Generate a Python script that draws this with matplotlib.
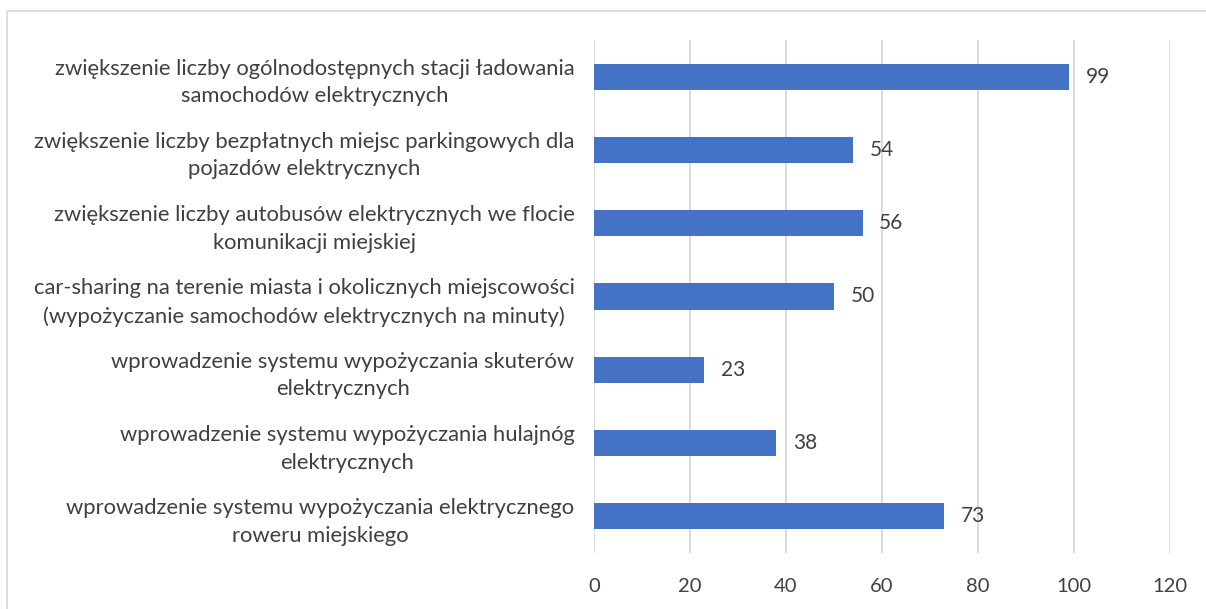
import matplotlib
matplotlib.use('Agg')
from matplotlib import pyplot as plt
from matplotlib.patches import Rectangle

categories = [
    'zwiększenie liczby ogólnodostępnych stacji ładowania\nsamochodów elektrycznych',
    'zwiększenie liczby bezpłatnych miejsc parkingowych dla\npojazdów elektrycznych',
    'zwiększenie liczby autobusów elektrycznych we flocie\nkomunikacji miejskiej',
    'car-sharing na terenie miasta i okolicznych miejscowości\n(wypożyczanie samochodów elektrycznych na minuty)',
    'wprowadzenie systemu wypożyczania skuterów\nelektrycznych',
    'wprowadzenie systemu wypożyczania hulajnóg\nelektrycznych',
    'wprowadzenie systemu wypożyczania elektrycznego\nroweru miejskiego',
]
values = [99, 54, 56, 50, 23, 38, 73]
x_ticks = [0, 20, 40, 60, 80, 100, 120]

TEXT = '#404040'
BAR = '#4472C4'
GRID = '#D9D9D9'

plt.rcParams['font.family'] = ['Lato', 'DejaVu Sans']

fig = plt.figure(figsize=(12.06, 6.09), dpi=100)
ax = fig.add_axes([594 / 1206, 1 - 553 / 609, (1170 - 594) / 1206, (553 - 40) / 609])

# outer chart border (runs off the right/bottom edge like the screenshot)
fig.patches.append(Rectangle((7 / 1206, -0.1), 1.2, 1.1 - 11 / 609,
                             transform=fig.transFigure, fill=False,
                             edgecolor=GRID, linewidth=1.2))

pos = list(range(len(categories)))[::-1]
ax.barh(pos, values, height=0.355, color=BAR, zorder=3)

for p, v in zip(pos, values):
    ax.text(v + 3.4, p, str(v), va='center', ha='left', fontsize=15, color=TEXT)

ax.set_xlim(0, 120)
ax.set_ylim(-0.5, len(categories) - 0.5)
ax.set_xticks(x_ticks)
ax.set_xticklabels([str(t) for t in x_ticks], fontsize=14.5, color=TEXT)
ax.set_yticks(pos)
ax.set_yticklabels(categories, fontsize=15.8, color=TEXT, multialignment='center',
                   linespacing=1.47)

ax.grid(axis='x', color=GRID, linewidth=1.3, zorder=0)
ax.tick_params(axis='both', length=0)
ax.tick_params(axis='x', pad=18)
ax.tick_params(axis='y', pad=14)
for s in ax.spines.values():
    s.set_visible(False)

fig.savefig('out.png', dpi=100)
